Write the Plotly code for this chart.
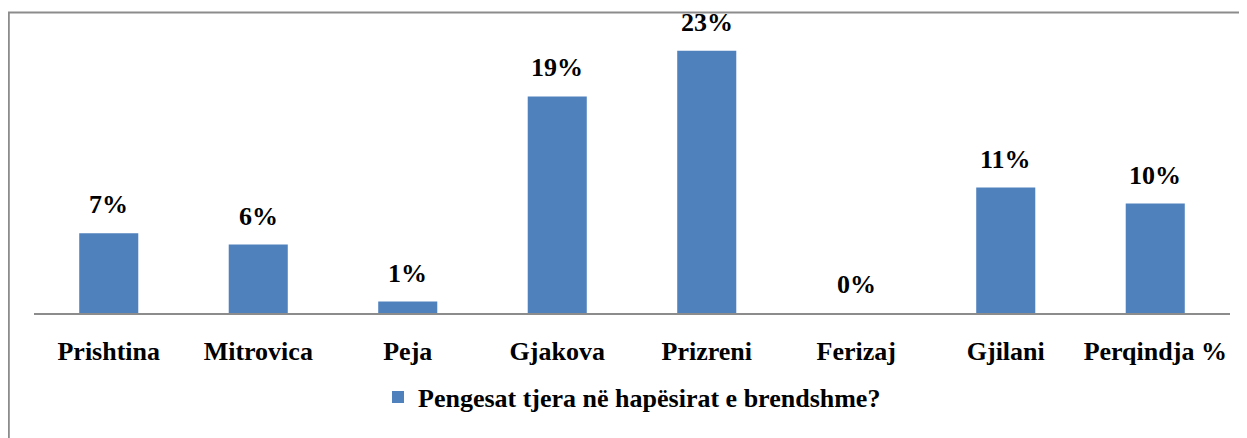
import plotly.graph_objects as go

categories = ["Prishtina", "Mitrovica", "Peja", "Gjakova", "Prizreni", "Ferizaj", "Gjilani", "Perqindja %"]
values = [0.07, 0.06, 0.01, 0.19, 0.23, 0.0, 0.11, 0.096]
series_name = "Pengesat tjera në hapësirat e brendshme?"

# page has an 8px body margin; figure sized so that it fits the window
OFF = 8
W, H = 1247 - OFF, 438 - OFF
L, R, T, B = 34 - OFF, 17, 28 - OFF, 125
FONT = "Liberation Serif, Times New Roman, serif"

fig = go.Figure()
fig.add_trace(go.Bar(
    x=categories, y=values, name=series_name,
    marker=dict(color="#4F81BD", line=dict(width=0)),
    width=0.395, showlegend=True,
))

annotations = []
for c, v in zip(categories, values):
    annotations.append(dict(
        x=c, y=v, xref="x", yref="y", text=f"{round(v*100):.0f}%",
        showarrow=False, yanchor="bottom", yshift=12,
        font=dict(family=FONT, size=26, color="black", weight="bold"),
    ))

pw = W - L - R
ph = H - T - B
base = H - B  # baseline in figure px
x0 = (0.8 - L) / pw
x1 = (W + 5 - L) / pw
y1 = (base - (12.5 - OFF)) / ph
y0 = (base - H - 5) / ph

fig.update_layout(
    width=W, height=H,
    margin=dict(l=L, r=R, t=T, b=B, autoexpand=False),
    paper_bgcolor="white", plot_bgcolor="white",
    font=dict(family=FONT, size=26, color="black"),
    xaxis=dict(
        showline=True, linecolor="#8c8c8c", linewidth=1.5,
        ticks="", showgrid=False,
        tickfont=dict(family=FONT, size=26, color="black", weight="bold"),
        ticklabelstandoff=14,
    ),
    yaxis=dict(range=[0, 0.25], visible=False, showgrid=False, zeroline=False),
    bargap=0.605,
    showlegend=True,
    legend=dict(
        orientation="h", x=0.5, xanchor="center",
        y=(base - (397 - OFF)) / ph, yanchor="middle",
        font=dict(family=FONT, size=26, color="black", weight="bold"),
        itemwidth=30,
    ),
    annotations=annotations,
    shapes=[dict(
        type="rect", xref="paper", yref="paper",
        x0=x0, x1=x1, y0=y0, y1=y1,
        line=dict(color="#8c8c8c", width=2), fillcolor="rgba(0,0,0,0)",
        layer="above",
    )],
)

fig.write_html("out.html")
